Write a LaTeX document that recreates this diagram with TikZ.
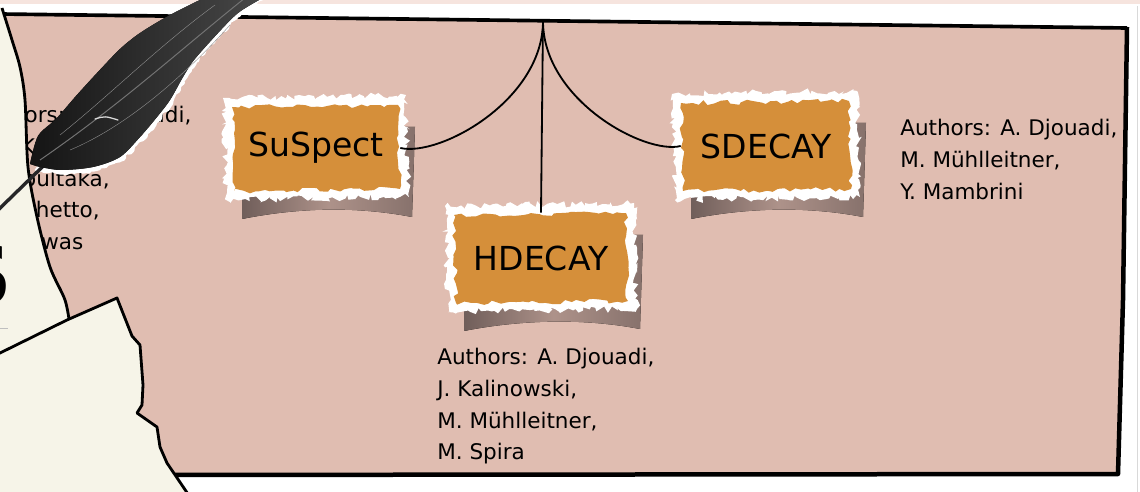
\documentclass[tikz,border=0pt]{standalone}
\usepackage{fontspec}
\setmainfont{DejaVu Sans}
\usepackage{tikz}
\usetikzlibrary{decorations.pathmorphing,calc,positioning}
\definecolor{panelpink}{RGB}{224,189,177}
\definecolor{paper}{RGB}{246,244,232}
\definecolor{tornorange}{RGB}{213,143,58}
\definecolor{shadowgray}{RGB}{112,94,90}
\definecolor{quill}{RGB}{38,38,40}
\definecolor{toppink}{RGB}{246,228,222}
\tikzset{
  wire/.style={line width=1.3pt,black},
  boxlabel/.style={font=\fontsize{23.5}{24}\selectfont,inner sep=0pt,text=black},
  authors/.style={font=\fontsize{15.3}{22.6}\selectfont,align=left,inner sep=0pt,anchor=north west},
  tornwhite/.style={decorate,decoration={random steps,segment length=2.5pt,amplitude=2.4pt}},
  tornedge/.style={decorate,decoration={random steps,segment length=4pt,amplitude=1.8pt}},
}
% torn paper label: name, centre x, centre y, half width, half height, text
\newcommand{\tornbox}[6]{%
  \fill[left color=shadowgray,right color=shadowgray!80!panelpink,middle color=shadowgray!45!panelpink]
    ({#2-#4+10},{#3+#5}) -- ({#2-#4+10},{#3+#5+28})
    .. controls ({#2-#4+60},{#3+#5+18}) and ({#2+#4-50},{#3+#5+14}) .. ({#2+#4+12},{#3+#5+26})
    -- ({#2+#4+15},{#3-#5+22}) -- ({#2+#4},{#3-#5+22}) -- cycle;
  \fill[white,tornwhite] ({#2-#4-9},{#3-#5-7}) -- ({#2+#4+6},{#3-#5-10}) -- ({#2+#4+9},{#3+#5+6})
    -- ({#2-#4-6},{#3+#5+9}) -- cycle;
  \fill[tornorange,tornedge] ({#2-#4},{#3-#5+2}) -- ({#2+#4-2},{#3-#5}) -- ({#2+#4},{#3+#5-2})
    -- ({#2-#4+2},{#3+#5}) -- cycle;
  \node[boxlabel,minimum width={#4*0.05cm},minimum height={#5*0.05cm}] (#1) at (#2,#3) {#6};}

\begin{document}
\begin{tikzpicture}[x=0.025cm,y=-0.025cm]
\pgfmathsetseed{11}
\useasboundingbox (0,0) rectangle (1140,492);
\fill[white] (0,0) rectangle (1140,492);
\fill[toppink] (0,0) rectangle (1140,4);
\draw[black!15,line width=0.5pt] (1137,6) -- (1137,492);
% panel
\fill[panelpink] (0,14) -- (1127,28) -- (1123,300) -- (1118,474) -- (0,474) -- cycle;
\draw[line width=2.6pt] (0,14) -- (1127,28);
\draw[line width=3.2pt,line join=round] (1127,27) -- (1123,300) -- (1118,474) -- (150,475);
% author list half hidden under the paper
\node[authors] (suspectauthors) at (-26,106) {Authors: A. Djouadi,\\J.-L. Kneur,\\G. Moultaka,\\M. Ughetto,\\D. Zerwas};
% the three programs
\tornbox{suspect}{316}{148}{84}{43}{SuSpect}
\tornbox{hdecay}{541}{258}{87}{45}{HDECAY}
\tornbox{sdecay}{766}{146}{85}{45}{SDECAY}
\coordinate (hub) at (543,21);
\draw[wire] (hub) .. controls (543,100) and (440,157) .. (suspect.east);
\draw[wire] (hub) -- (hdecay.north);
\draw[wire] (hub) .. controls (543,100) and (645,155) .. (sdecay.west);
\node[authors] (hdecayauthors) at (437,348) {Authors: A. Djouadi,\\J. Kalinowski,\\M. Mühlleitner,\\M. Spira};
\node[authors] (sdecayauthors) at (900,119) {Authors: A. Djouadi,\\M. Mühlleitner,\\Y. Mambrini};
% paper sheets on the left
\fill[paper] (-5,5) -- plot[smooth] coordinates {(2,8) (12,40) (20,67) (25,100) (28,167) (37,217) (50,267) (65,300) (70,326)} -- (-5,362) -- cycle;
\draw[line width=2pt] plot[smooth] coordinates {(2,8) (12,40) (20,67) (25,100) (28,167) (37,217) (50,267) (65,300) (70,326)};
\fill[paper] (-5,356) -- (0,353) -- (67,320) -- (117,298) -- (132,336) -- (140,345) -- (143,385) -- (142,405) -- (137,413) -- (157,427) -- (160,447) -- (167,463) -- (190,497) -- (-5,497) -- cycle;
\draw[line width=2pt,line join=round] (-5,356) -- (0,353) -- (67,320) -- (117,298) -- (132,336) -- (140,345) -- (143,385) -- (142,405) -- (137,413) -- (157,427) -- (160,447) -- (167,463) -- (190,497);
\node[font=\fontsize{58}{58}\selectfont\bfseries,anchor=east,inner sep=0pt] (bigs) at (13,275) {S};
\draw[black!25,line width=0.6pt] (0,328) -- (8,328);
% quill
\draw[white,line width=3.6pt,line join=round,decorate,decoration={random steps,segment length=2pt,amplitude=1.2pt}]
  (262,-2) -- (240,12) -- (219,33) -- (195,60) -- (184,78) -- (171,101) -- (158,118) -- (141,139) -- (121,159) -- (94,169) -- (60,172) -- (36,168);
\draw[quill,line width=2.4pt,line cap=round] (-6,214) -- (70,140);
\fill[left color=black!92,right color=black!72]
  plot[smooth] coordinates {(30,164) (38,136) (56,119) (76,96) (97,73) (120,49) (140,33) (170,15) (208,-4)}
  -- (264,-4) --
  plot[smooth] coordinates {(259,0) (238,13) (218,33) (194,60) (183,77) (170,100) (157,117) (140,137) (120,157) (93,167) (60,170) (36,166)} -- cycle;
\draw[black!55,line width=0.7pt] (40,160) .. controls (120,105) and (180,50) .. (245,-2);
\draw[black!45,line width=0.3pt] (70,150) .. controls (130,125) and (190,70) .. (230,25);
\draw[black!45,line width=0.3pt] (60,135) .. controls (110,95) and (160,45) .. (215,5);
\draw[white!85!black,line width=0.9pt,line cap=round] (95,119) .. controls (105,116) .. (118,120);
\end{tikzpicture}
\end{document}
